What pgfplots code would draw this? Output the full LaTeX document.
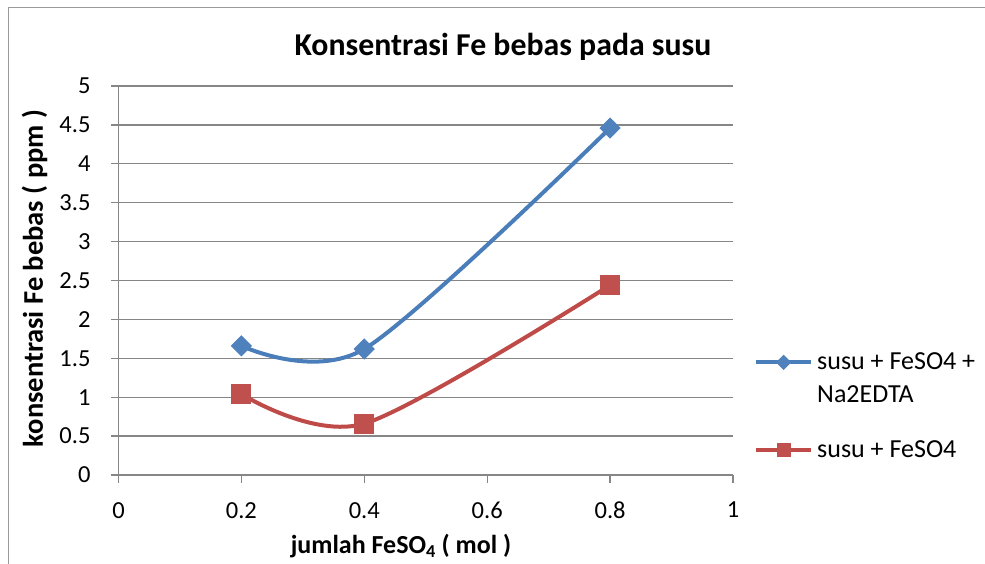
\documentclass[border=0pt]{standalone}
\usepackage{fontspec}
\setmainfont{Carlito}
\usepackage{pgfplots}
\pgfplotsset{compat=1.18}

\definecolor{serA}{HTML}{4F81BD}
\definecolor{serAline}{HTML}{4A7EBB}
\definecolor{serB}{HTML}{C0504D}
\definecolor{serBline}{HTML}{BE4B48}
\definecolor{gridC}{HTML}{868686}
\definecolor{frameC}{HTML}{9A9A9A}

\begin{document}
\begin{tikzpicture}
\begin{axis}[
  at={(0pt,0pt)}, anchor=south west,
  scale only axis, width=614.5pt, height=389pt,
  xmin=0, xmax=1, ymin=0, ymax=5,
  xtick={0,0.2,0.4,0.6,0.8,1},
  xticklabels={0,0.2,0.4,0.6,0.8,1},
  ytick={0,0.5,1,1.5,2,2.5,3,3.5,4,4.5,5},
  yticklabels={0,0.5,1,1.5,2,2.5,3,3.5,4,4.5,5},
  axis lines=left,
  axis line style={-, draw=gridC, line width=1.3pt},
  ymajorgrids,
  major grid style={gridC, line width=1.3pt},
  tick align=outside, major tick length=7.5pt,
  tick style={gridC, line width=1.3pt},
  ticklabel style={font=\fontsize{24.5}{29}\selectfont, text=black, inner sep=0pt},
  xticklabel style={anchor=north, yshift=-19.5pt},
  yticklabel style={anchor=east, xshift=-20.3pt},
  title={Konsentrasi Fe bebas pada susu},
  title style={font=\bfseries\fontsize{31.8}{36}\selectfont,
    at={(axis description cs:0.6257,1.0632)}, anchor=base},
  xlabel={jumlah FeSO\textsubscript{4} ( mol )},
  xlabel style={font=\bfseries\fontsize{26}{30}\selectfont,
    at={(axis description cs:0.4597,-0.202)}, anchor=base},
  ylabel={konsentrasi Fe bebas ( ppm )},
  ylabel style={font=\bfseries\fontsize{28.5}{33}\selectfont,
    at={(axis description cs:-0.1229,0.505)}, anchor=base},
  legend style={draw=none, fill=none, inner sep=0pt,
    at={(axis description cs:1.0342,0.3147)}, anchor=north west,
    font=\fontsize{26}{32.4}\selectfont,
    nodes={inner sep=0pt, anchor=base west},
    row sep=69pt},
  legend cell align=left,
  legend image code/.code={%
    \draw[#1, mark repeat=2, mark phase=2,
      /tikz/every mark/.append style={scale=0.7}]
      plot coordinates {(0pt,7.3pt) (27.5pt,7.3pt) (55pt,7.3pt)};},
  /tikz/every odd column/.append style={column sep=4pt},
]
\addplot[serAline, line width=4pt, smooth,
  mark=square*, mark size=7pt,
  mark options={serA, draw=serA, line width=1pt, rotate=45, solid}]
  coordinates {(0.2,1.66) (0.4,1.62) (0.8,4.46)};
\addlegendentry{\parbox[t]{200pt}{susu + FeSO4 +\\Na2EDTA}}
\addplot[serBline, line width=4pt, smooth,
  mark=square*, mark size=9.5pt,
  mark options={serB, draw=serB, line width=1pt, solid}]
  coordinates {(0.2,1.04) (0.4,0.66) (0.8,2.44)};
\addlegendentry{susu + FeSO4}
\end{axis}
% page extent and chart area border, measured from the axis origin
\pgfresetboundingbox
\useasboundingbox (-118.5pt,-88pt) rectangle (866.5pt,475pt);
\draw[frameC, line width=1.5pt] (-110.2pt,-100pt) -- (-110.2pt,467.7pt) -- (880pt,467.7pt);
\end{tikzpicture}
\end{document}
